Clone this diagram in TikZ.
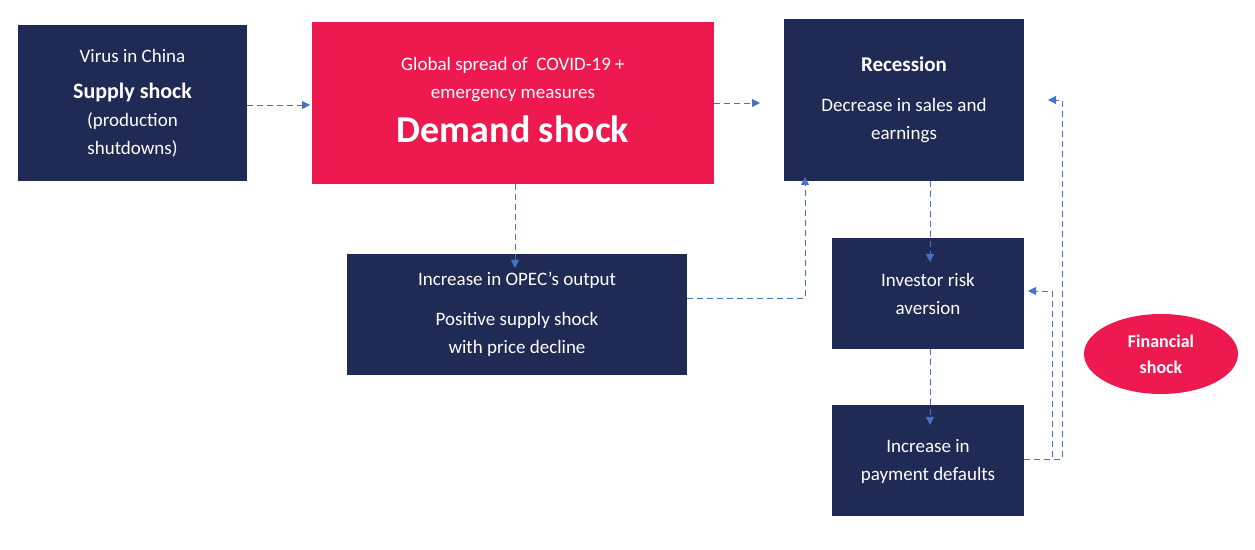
\documentclass[tikz,border=0pt]{standalone}
\usepackage{fontspec}
\setmainfont{Carlito}
\usetikzlibrary{arrows.meta,shapes.geometric}
\definecolor{navy}{HTML}{1F2A55}
\definecolor{hot}{HTML}{EE1A4F}
\definecolor{arr}{HTML}{4472C4}
\begin{document}
\begin{tikzpicture}[x=0.5pt,y=-0.5pt,
  box/.style={fill=navy,text=white,align=center,font=\fontsize{9.5}{14}\selectfont},
  conn/.style={draw=arr,densely dashed,line width=0.4pt,-{Triangle[length=4pt,width=4pt]}}]
\useasboundingbox (0,0) rectangle (1255,550);
\fill[navy] (18,25) rectangle (247,181);
\node[box,fill=none] (virus) at (132.5,103) {Virus in China\\[4pt]{\fontsize{11}{14}\selectfont\bfseries Supply shock}\\(production\\shutdowns)};
\coordinate (virusR) at (247,105);
\fill[hot] (312,22) rectangle (714,184);
\node[box,fill=none] (demand) at (513,100) {Global spread of\ \ COVID-19 +\\emergency measures\\[6pt]{\fontsize{19}{22}\selectfont\bfseries Demand shock}};
\coordinate (demL) at (312,105);
\coordinate (demR) at (714,103);
\coordinate (demB) at (515,184);
\fill[navy] (784,19) rectangle (1024,181);
\node[box,fill=none] (rec) at (904,100) {{\fontsize{10.5}{14}\selectfont\bfseries Recession}\\[6pt]Decrease in sales and\\earnings};
\coordinate (recL) at (784,103);
\coordinate (recB) at (930,181);
\coordinate (recBL) at (805,181);
\coordinate (recR) at (1024,100);
\fill[navy] (347,254) rectangle (687,375);
\node[box,fill=none] (opec) at (517,314) {Increase in OPEC’s output\\[6pt]Positive supply shock\\with price decline};
\coordinate (opecT) at (515,254);
\coordinate (opecR) at (687,298);
\fill[navy] (832,238) rectangle (1024,349);
\node[box,fill=none] (inv) at (928,294) {Investor risk\\aversion};
\coordinate (invT) at (930,238);
\coordinate (invB) at (930,349);
\coordinate (invR) at (1024,291);
\fill[navy] (832,405) rectangle (1024,516);
\node[box,fill=none] (def) at (928,461) {Increase in\\payment defaults};
\coordinate (defT) at (930,405);
\coordinate (defR) at (1024,459);
\node[ellipse,fill=hot,text=white,align=center,minimum width=77pt,minimum height=40pt,inner sep=0pt,font=\fontsize{9}{13}\selectfont\bfseries] (fin) at (1161,354) {Financial\\shock};
\draw[conn] (virusR) -- ([xshift=-1]demL);
\draw[conn] (demR) -- ([xshift=-12]recL);
\draw[conn] (demB) -- ([yshift=-7]opecT);
\draw[conn] (opecR) -- (805,298) -- ([yshift=2]recBL);
\draw[conn] (recB) -- ([yshift=-12]invT);
\draw[conn] (invB) -- ([yshift=-10]defT);
\draw[conn] (defR) -- (1062,459) -- (1062,100) -- ([xshift=12]recR);
\draw[conn] (defR) -- (1052,459) -- (1052,291) -- ([xshift=2]invR);
\end{tikzpicture}
\end{document}
